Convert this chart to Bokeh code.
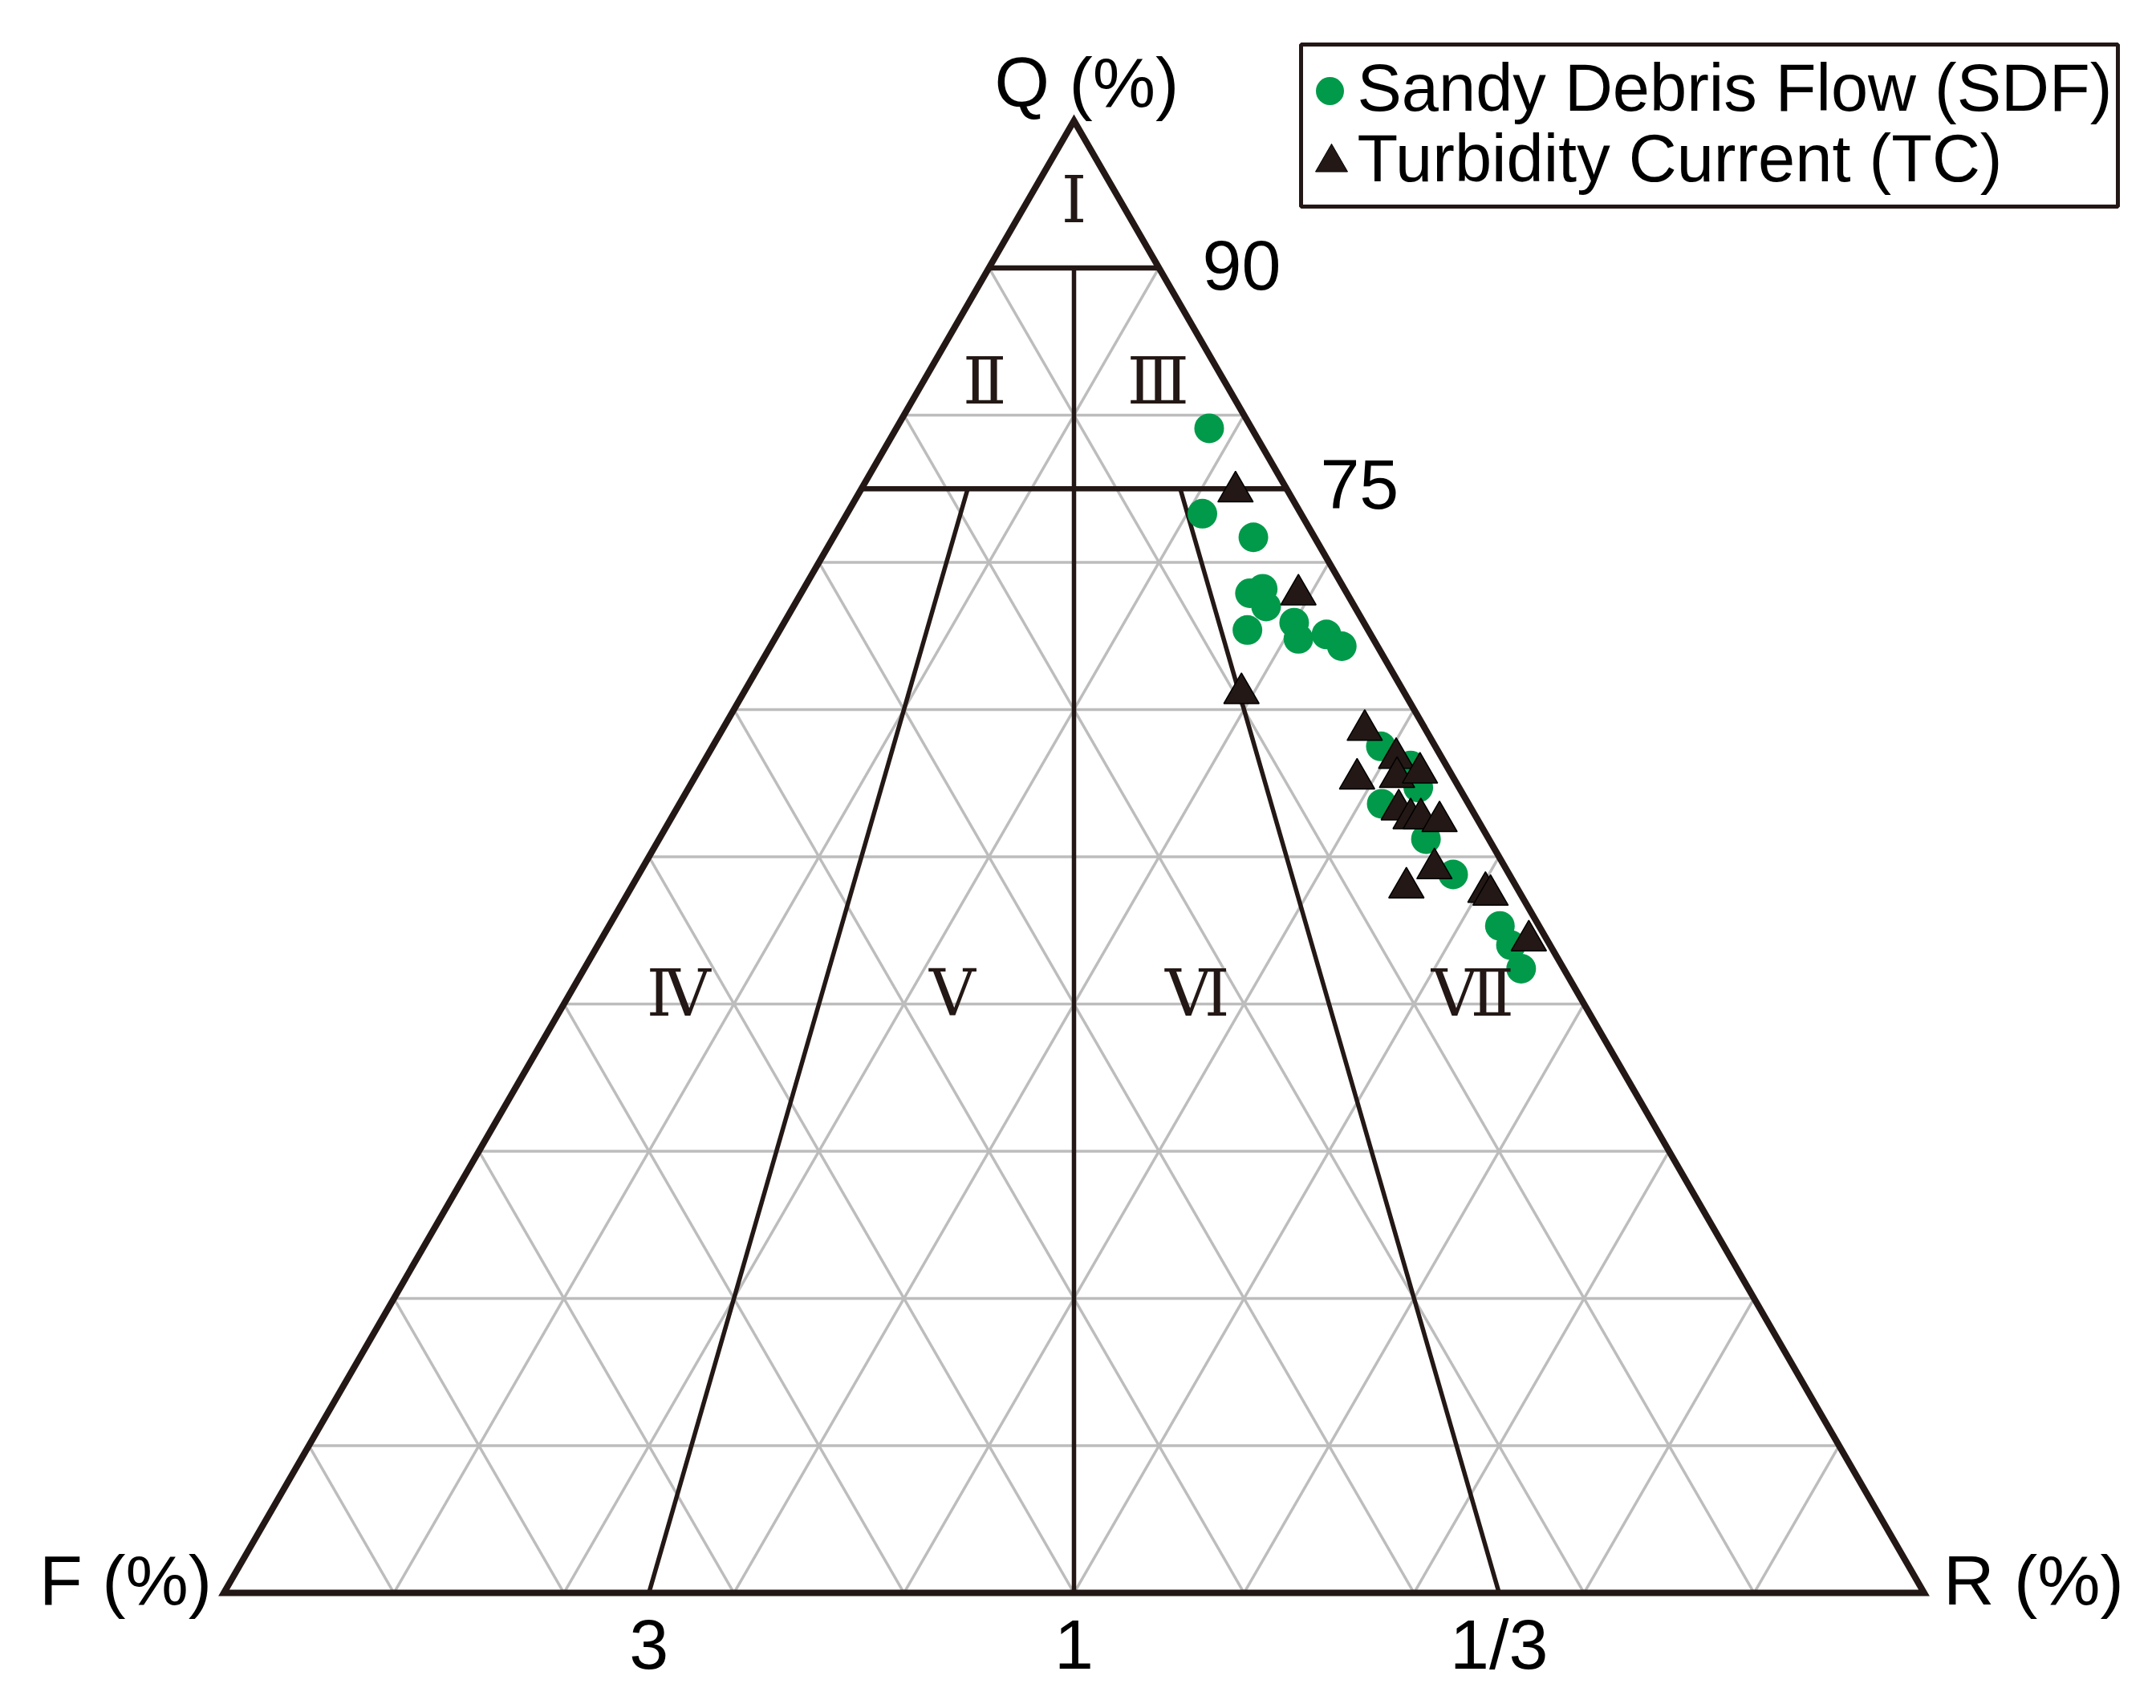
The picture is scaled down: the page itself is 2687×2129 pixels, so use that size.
import math
from bokeh.plotting import figure
from bokeh.models import Range1d
from bokeh.core.properties import value
from bokeh.embed import file_html
from bokeh.resources import INLINE

# ---------------- data (compositions in %) ----------------
# Sandy Debris Flow (SDF)
sdf_Q = [79.1, 73.3, 71.7, 67.9, 68.2, 67.0, 65.4, 65.9, 64.8, 65.1, 64.3, 57.5, 56.2, 54.7, 53.6, 51.2, 48.8, 45.3, 44.0, 42.4]
sdf_F = [2.5, 5.8, 3.6, 5.7, 4.8, 5.2, 7.1, 4.1, 4.4, 2.6, 2.1, 3.2, 2.1, 2.4, 5.1, 3.7, 3.3, 2.3, 2.3, 2.5]
sdf_R = [18.4, 20.9, 24.7, 26.4, 27.0, 27.8, 27.5, 30.0, 30.8, 32.3, 33.6, 39.3, 41.7, 42.9, 41.3, 45.1, 47.9, 52.4, 53.7, 55.1]
# Turbidity Current (TC)
tc_Q = [74.8, 67.8, 61.1, 58.6, 56.7, 55.3, 55.4, 55.7, 53.2, 52.6, 52.6, 52.4, 49.2, 47.9, 47.6, 47.4, 44.3]
tc_F = [3.1, 2.9, 9.6, 3.6, 2.7, 5.7, 3.3, 1.8, 4.3, 3.9, 3.3, 2.3, 4.2, 6.5, 2.0, 1.8, 1.1]
tc_R = [22.1, 29.3, 29.3, 37.8, 40.6, 39.0, 41.3, 42.5, 42.5, 43.5, 44.1, 45.3, 46.6, 45.6, 50.4, 50.8, 54.6]

# classification boundaries
q_bounds = [90, 75]
fr_ratios = ["3", "1", "1/3"]
fr_ratio_R = [25, 50, 75]          # R % on F-R side for each ratio label
roman_labels = ["Ⅰ", "Ⅱ", "Ⅲ", "Ⅳ", "Ⅴ", "Ⅵ", "Ⅶ"]
roman_Q = [92.8, 80.5, 80.5, 38.9, 38.9, 38.9, 38.9]
roman_R = [3.6, 4.5, 14.7, 7.3, 23.4, 37.8, 54.0]
corner_labels = ["Q (%)", "F (%)", "R (%)"]
legend_labels = ["Sandy Debris Flow (SDF)", "Turbidity Current (TC)"]

# ---------------- geometry ----------------
W, H = 2671, 2113
SCALE = 21.19                      # px per % of side
F0X, F0Y = 278.5, 1985.0           # F corner in canvas px
SQ3 = math.sqrt(3) / 2
TDY = 33                           # baseline correction for text (px, upwards)

x0 = -F0X / SCALE
x1 = x0 + W / SCALE
y0 = -(H - F0Y) / SCALE
y1 = y0 + H / SCALE


def tern(Q, R):
    return R + Q / 2.0, Q * SQ3


def px(n):
    return n / SCALE


def pgx(X):  # canvas px -> data x
    return x0 + X / SCALE


def pgy(Y):  # canvas px -> data y
    return y0 + (H - Y) / SCALE


p = figure(width=W, height=H, output_backend="svg", toolbar_location=None,
           x_range=Range1d(x0, x1), y_range=Range1d(y0, y1),
           x_axis_type=None, y_axis_type=None, min_border=0)
p.outline_line_color = None
p.xgrid.visible = False
p.ygrid.visible = False
p.background_fill_color = "white"
p.border_fill_color = "white"

GRAY = "#bdbdbd"
BLACK = "#231815"
GREEN = "#009a4a"

# gray grid (10 % steps)
xs, ys = [], []
for k in range(1, 10):
    v = 10 * k
    a = tern(v, 0); b = tern(v, 100 - v)            # constant Q
    xs.append([a[0], b[0]]); ys.append([a[1], b[1]])
    a = tern(0, v); b = tern(100 - v, v)            # constant R
    xs.append([a[0], b[0]]); ys.append([a[1], b[1]])
    a = tern(0, 100 - v); b = tern(100 - v, 0)      # constant F
    xs.append([a[0], b[0]]); ys.append([a[1], b[1]])
p.multi_line(xs, ys, line_color=GRAY, line_width=3.5)

# classification lines
cx, cy = [], []
for q in q_bounds:
    a = tern(q, 0); b = tern(q, 100 - q)
    cx.append([a[0], b[0]]); cy.append([a[1], b[1]])
p.multi_line(cx, cy, line_color=BLACK, line_width=6.5)
cx, cy = [], []
# F/R = 1 vertical from Q=90 to bottom
a = tern(q_bounds[0], (100 - q_bounds[0]) / 2); b = tern(0, 50)
cx.append([a[0], b[0]]); cy.append([a[1], b[1]])
# F/R = 3 and 1/3 from bottom to Q=75
for r in (fr_ratio_R[0], fr_ratio_R[2]):
    a = tern(0, r); b = tern(q_bounds[1], r * (100 - q_bounds[1]) / 100)
    cx.append([a[0], b[0]]); cy.append([a[1], b[1]])
p.multi_line(cx, cy, line_color=BLACK, line_width=5.5)

# triangle outline
A = tern(100, 0); Fc = tern(0, 0); Rc = tern(0, 100)
p.line([Fc[0], Rc[0], A[0], Fc[0], Rc[0]], [Fc[1], Rc[1], A[1], Fc[1], Rc[1]],
       line_color=BLACK, line_width=8, line_join="miter")

# data
sx = [r + q / 2 for q, r in zip(sdf_Q, sdf_R)]
sy = [q * SQ3 for q in sdf_Q]
p.scatter(sx, sy, marker="circle", size=37, fill_color=GREEN, line_color=None)
tx = [r + q / 2 for q, r in zip(tc_Q, tc_R)]
ty = [q * SQ3 for q in tc_Q]
p.scatter(tx, ty, marker="triangle", size=44, fill_color=BLACK, line_color="#000000", line_width=1.5)

SANS = value("Liberation Sans")

# roman numeral zone labels
rx = [r + q / 2 for q, r in zip(roman_Q, roman_R)]
ry = [q * SQ3 + px(TDY) for q in roman_Q]
p.text(rx, ry, text=roman_labels, text_font=value("DejaVu Serif"),
       text_font_size="80px", text_align="center", text_baseline="alphabetic",
       text_color=BLACK)

# corner labels
p.text([A[0] + px(16)], [A[1] + px(15 + TDY)], text=[corner_labels[0]], text_font=SANS,
       text_font_size="88px", text_align="center", text_baseline="alphabetic", text_color="black")
p.text([Fc[0] - px(15)], [Fc[1] - px(17 - TDY)], text=[corner_labels[1]], text_font=SANS,
       text_font_size="88px", text_align="right", text_baseline="alphabetic", text_color="black")
p.text([Rc[0] + px(24)], [Rc[1] - px(17 - TDY)], text=[corner_labels[2]], text_font=SANS,
       text_font_size="88px", text_align="left", text_baseline="alphabetic", text_color="black")

# Q boundary value labels
q90 = tern(q_bounds[0], 100 - q_bounds[0])
q75 = tern(q_bounds[1], 100 - q_bounds[1])
p.text([q90[0] + px(54), q75[0] + px(42)], [q90[1] - px(30 - TDY), q75[1] - px(28 - TDY)],
       text=[str(q) for q in q_bounds], text_font=SANS, text_font_size="88px",
       text_align="left", text_baseline="alphabetic", text_color="black")

# F/R ratio labels on the base
bx = [tern(0, r)[0] for r in fr_ratio_R]
by = [tern(0, r)[1] - px(97 - TDY) for r in fr_ratio_R]
p.text(bx, by, text=fr_ratios, text_font=SANS, text_font_size="88px",
       text_align="center", text_baseline="alphabetic", text_color="black")

# legend (drawn manually)
p.quad(left=[pgx(1621)], right=[pgx(2639)], top=[pgy(55)], bottom=[pgy(257)],
       fill_color="white", line_color=BLACK, line_width=5)
p.scatter([pgx(1657)], [pgy(113)], marker="circle", size=35, fill_color=GREEN, line_color=None)
p.scatter([pgx(1659)], [pgy(202)], marker="triangle", size=40, fill_color=BLACK, line_color="#000000")
p.text([pgx(1691), pgx(1691)], [pgy(142 - TDY), pgy(230 - TDY)], text=legend_labels, text_font=SANS,
       text_font_size="83px", text_align="left", text_baseline="alphabetic", text_color="black")

open("out.html", "w").write(file_html(p, INLINE))
